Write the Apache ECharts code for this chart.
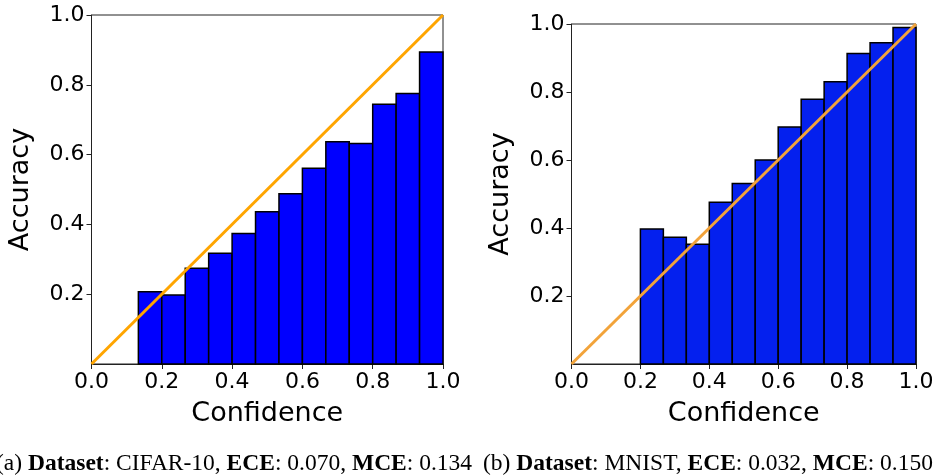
<!DOCTYPE html>
<html>
<head>
<meta charset="utf-8">
<script src="https://cdn.jsdelivr.net/npm/echarts@6/dist/echarts.min.js"></script>
<style>
html, body { margin: 0; padding: 0; background: #fff; }
#main { width: 937px; height: 476px; }
</style>
</head>
<body>
<div id="main"></div>
<script>
// 15 bins over [0,1]; first non-empty bin index per dataset
var binCount = 15;
var cifarFirstBin = 2;
var cifarAcc = [0.207, 0.198, 0.274, 0.317, 0.374, 0.436, 0.488, 0.561, 0.637, 0.632, 0.744, 0.775, 0.894];
var mnistFirstBin = 3;
var mnistAcc = [0.397, 0.373, 0.352, 0.476, 0.531, 0.600, 0.697, 0.779, 0.830, 0.913, 0.945, 0.990];
var diagonal = [[0, 0], [1, 1]];
var yTickValues = [0.2, 0.4, 0.6, 0.8, 1.0];

function toBins(first, acc) {
    var out = [];
    for (var i = 0; i < acc.length; i++) {
        out.push([(first + i) / binCount, (first + i + 1) / binCount, acc[i]]);
    }
    return out;
}

var axisFont = 'DejaVu Sans';

function xAxisFor(idx) {
    return {
        type: 'value', gridIndex: idx, min: 0, max: 1, interval: 0.2,
        name: 'Confidence', nameLocation: 'middle', nameGap: 36,
        nameTextStyle: { fontFamily: axisFont, fontSize: 27, color: '#000' },
        axisLine: { show: true, onZero: false, lineStyle: { color: '#222', width: 1 } },
        axisTick: { show: true, length: 5, lineStyle: { color: '#222' } },
        axisLabel: { fontFamily: axisFont, fontSize: 22, color: '#000', margin: 7,
            formatter: function (v) { return v.toFixed(1); } },
        splitLine: { show: false }
    };
}

function yAxisFor(idx) {
    return {
        type: 'value', gridIndex: idx, min: 0, max: 1, interval: 0.2,
        name: 'Accuracy', nameLocation: 'middle', nameGap: 57,
        nameTextStyle: { fontFamily: axisFont, fontSize: 27, color: '#000' },
        axisLine: { show: true, onZero: false, lineStyle: { color: '#222', width: 1 } },
        axisTick: { show: true, length: 5, customValues: yTickValues, lineStyle: { color: '#222' } },
        axisLabel: { fontFamily: axisFont, fontSize: 22, color: '#000', margin: 7,
            customValues: yTickValues,
            formatter: function (v) { return v.toFixed(1); } },
        splitLine: { show: false }
    };
}

function barSeries(idx, data, color) {
    return {
        type: 'custom', xAxisIndex: idx, yAxisIndex: idx,
        data: data,
        renderItem: function (params, api) {
            var p0 = api.coord([api.value(0), 0]);
            var p1 = api.coord([api.value(1), api.value(2)]);
            return {
                type: 'rect',
                shape: { x: p0[0], y: p1[1], width: p1[0] - p0[0], height: p0[1] - p1[1] },
                style: { fill: color, stroke: '#000', lineWidth: 1.5 }
            };
        },
        z: 2
    };
}

function lineSeries(idx, color) {
    return {
        type: 'line', xAxisIndex: idx, yAxisIndex: idx,
        data: diagonal, symbol: 'none',
        lineStyle: { color: color, width: 3 },
        z: 3
    };
}

var captionRich = { b: { fontFamily: 'Liberation Serif', fontSize: 23.5, fontWeight: 'bold' } };

var myChart = echarts.init(document.getElementById('main'));
var option = {
    backgroundColor: '#fff',
    animation: false,
    grid: [
        { left: 91.5, right: 494, top: 15, bottom: 112, show: true, borderColor: '#222', borderWidth: 1, backgroundColor: 'transparent' },
        { left: 571.5, right: 21, top: 24, bottom: 112, show: true, borderColor: '#222', borderWidth: 1, backgroundColor: 'transparent' }
    ],
    xAxis: [xAxisFor(0), xAxisFor(1)],
    yAxis: [yAxisFor(0), yAxisFor(1)],
    series: [
        barSeries(0, toBins(cifarFirstBin, cifarAcc), '#0000ff'),
        lineSeries(0, '#ffa500'),
        barSeries(1, toBins(mnistFirstBin, mnistAcc), '#0420ee'),
        lineSeries(1, '#f2a33a')
    ],
    graphic: [
        {
            type: 'text', left: -4, top: 452,
            style: {
                text: '(a) {b|Dataset}: CIFAR-10, {b|ECE}: 0.070, {b|MCE}: 0.134',
                fontFamily: 'Liberation Serif', fontSize: 23.5, fill: '#000',
                rich: captionRich
            }
        },
        {
            type: 'text', left: 483, top: 452,
            style: {
                text: '(b) {b|Dataset}: MNIST, {b|ECE}: 0.032, {b|MCE}: 0.150',
                fontFamily: 'Liberation Serif', fontSize: 23.5, fill: '#000',
                rich: captionRich
            }
        }
    ]
};
myChart.setOption(option);
</script>
</body>
</html>
